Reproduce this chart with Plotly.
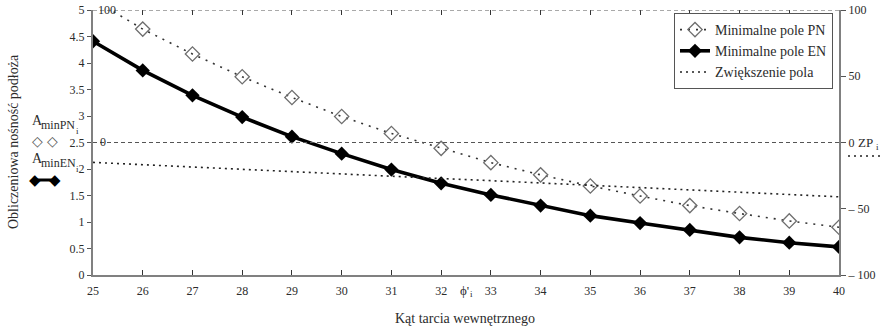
import plotly.graph_objects as go

# Friction angle (degrees)
phi = [25, 26, 27, 28, 29, 30, 31, 32, 33, 34, 35, 36, 37, 38, 39, 40]

# Minimum required foundation area, PN standard
a_min_pn = [5.20, 4.64, 4.17, 3.74, 3.35, 2.99, 2.67, 2.39, 2.12, 1.89, 1.68,
            1.49, 1.31, 1.16, 1.02, 0.90]
# Minimum required foundation area, EN standard
a_min_en = [4.41, 3.86, 3.39, 2.98, 2.61, 2.29, 1.99, 1.73, 1.51, 1.31, 1.12,
            0.98, 0.85, 0.71, 0.61, 0.53]
# Area change (%)
zp = [-15.0, -16.8, -18.7, -20.4, -22.1, -23.8, -25.4, -27.2, -28.8, -30.6,
      -32.3, -34.2, -35.6, -37.8, -39.4, -41.0]

right_ticks = [-100, -50, 0, 50, 100]
right_ticktext = ["\u2013 100", "\u2013 50", "0", "50", "100"]

W, H = 892, 329
L, R, T, B = 93, 839, 10, 275
SERIF = "Liberation Serif, Times New Roman, Times, DejaVu Serif, serif"
SYMB = "DejaVu Sans"
INK = "#2b2b2b"
AXIS = "#808080"


def px(x):
    return (x - L) / (R - L)


def py(y):
    return (B - y) / (B - T)


fig = go.Figure()

fig.add_trace(go.Scatter(
    x=phi, y=a_min_pn, name="Minimalne pole PN", mode="lines+markers",
    line=dict(color="#333333", width=1.6, dash="2px,6px"),
    marker=dict(symbol="diamond-open", size=11, color="#6e6e6e",
                line=dict(width=1.3, color="#6e6e6e")),
))
fig.add_trace(go.Scatter(
    x=phi, y=a_min_en, name="Minimalne pole EN", mode="lines+markers",
    line=dict(color="#000000", width=3.6),
    marker=dict(symbol="diamond", size=11, color="#000000"),
))
fig.add_trace(go.Scatter(
    x=phi, y=zp, name="Zwiększenie pola", mode="lines",
    xaxis="x2", yaxis="y2",
    line=dict(color="#222222", width=1.6, dash="2px,4px"),
))

shapes = [
    # reference lines of the right axis (100 and 0)
    dict(type="line", xref="paper", yref="y2", x0=0, x1=1, y0=100, y1=100,
         line=dict(color="#555555", width=1, dash="4px,3px")),
    dict(type="line", xref="paper", yref="y2", x0=0, x1=1, y0=0, y1=0,
         line=dict(color="#555555", width=1, dash="4px,3px")),
    # trace keys outside the plot
    dict(type="line", xref="paper", yref="paper",
         x0=px(34), x1=px(56), y0=py(180), y1=py(180),
         line=dict(color="#000000", width=3)),
    dict(type="line", xref="paper", yref="paper",
         x0=px(848), x1=px(880), y0=py(156), y1=py(156),
         line=dict(color="#222222", width=1.4, dash="2px,4px")),
]


def note(text, x, y, size, family=SERIF, color=INK, **kw):
    d = dict(text=text, x=px(x), y=py(y), xref="paper", yref="paper",
             showarrow=False, xanchor="center", yanchor="middle",
             font=dict(size=size, family=family, color=color))
    d.update(kw)
    return d


annotations = [
    note("Obliczeniowa nośność podłoża", 13, 142, 14, textangle=-90),
    note("Kąt tarcia wewnętrznego", 465, 318, 14),
    note("ϕ'", 464, 290, 13),
    note("i", 471, 294, 9),
    note("100", 107, 10, 12),
    note("0", 103, 142, 12),
    # key for the A_minPN series
    note("A", 37, 120, 14),
    note("minPN", 58, 125, 12),
    note("i", 77, 131, 9),
    note("◇", 37, 141, 14, family=SYMB, color="#555555"),
    note("◇", 52, 141, 14, family=SYMB, color="#555555"),
    # key for the A_minEN series
    note("A", 37, 158, 14),
    note("minEN", 58, 163, 12),
    note("i", 77, 169, 9),
    note("◆", 35, 180, 15, family=SYMB, color="#000000"),
    note("◆", 55, 180, 15, family=SYMB, color="#000000"),
    # key for the ZP series
    note("ZP", 866, 142, 13),
    note("i", 877, 147, 9),
]

fig.update_layout(
    template="none",
    width=W, height=H,
    margin=dict(l=L, r=W - R, t=T, b=H - B, pad=0, autoexpand=False),
    paper_bgcolor="white", plot_bgcolor="white",
    font=dict(family=SERIF, size=12, color=INK),
    showlegend=True,
    legend=dict(x=px(833), y=py(13), xanchor="right", yanchor="top",
                bordercolor="#555555", borderwidth=1, bgcolor="white",
                font=dict(family=SERIF, size=14, color=INK),
                tracegroupgap=0, itemwidth=30),
    xaxis=dict(range=[25, 40], tickvals=phi, ticks="inside", ticklen=5,
               tickcolor="#333333", showgrid=False, zeroline=False,
               showline=True, linecolor=AXIS, linewidth=2, automargin=False,
               tickfont=dict(size=12), ticklabelstandoff=4),
    xaxis2=dict(range=[25, 40], overlaying="x", side="top", tickvals=phi,
                ticks="inside", ticklen=5, tickcolor="#333333",
                showticklabels=False, showgrid=False, zeroline=False,
                showline=False, automargin=False),
    yaxis=dict(range=[0, 5], dtick=0.5, ticks="outside", ticklen=4,
               tickcolor="#555555", showgrid=False, zeroline=False,
               showline=True, linecolor=AXIS, linewidth=2, automargin=False,
               tickfont=dict(size=12)),
    yaxis2=dict(range=[-100, 100], overlaying="y", side="right",
                tickvals=right_ticks, ticktext=right_ticktext,
                ticks="outside", ticklen=5, tickcolor="#555555",
                showgrid=False, zeroline=False, showline=True,
                linecolor=AXIS, linewidth=2, automargin=False,
                tickfont=dict(size=12)),
    shapes=shapes,
    annotations=annotations,
)

fig.write_html("out.html")
